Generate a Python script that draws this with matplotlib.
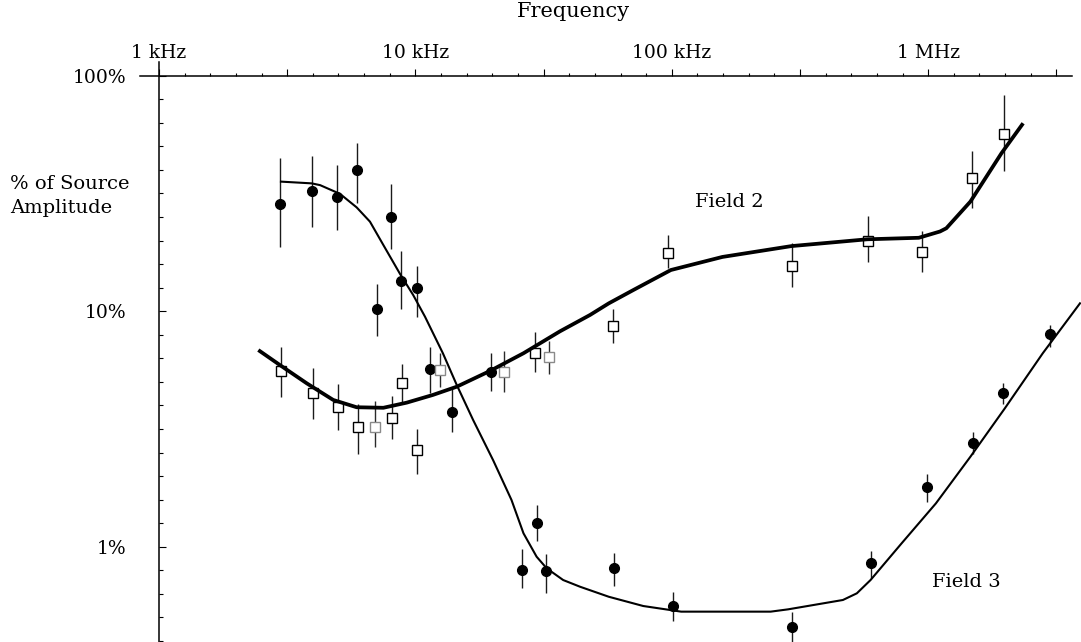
import numpy as np
import matplotlib
matplotlib.use("Agg")
import matplotlib.pyplot as plt
from matplotlib.ticker import FixedLocator, NullFormatter

plt.rcParams['font.family'] = ['DejaVu Serif']

# frequency in kHz, amplitude in % of source

# Field 3 measurements (filled circles)
f3_freq = [2.97, 3.94, 4.95, 5.92, 8.03, 7.08, 8.76, 10.1, 11.4, 13.9, 19.7,
           26.0, 29.7, 32.3, 59.5, 100.7, 295, 596, 993, 1494, 1961, 2975]
f3_amp = [28.5, 32.4, 30.5, 39.8, 25.2, 10.25, 13.5, 12.6, 5.67, 3.74, 5.53,
          0.80, 1.265, 0.788, 0.814, 0.560, 0.457, 0.850, 1.787, 2.764, 4.51, 7.98]
f3_lo = [18.7, 22.8, 22.1, 28.7, 18.4, 7.85, 10.2, 9.48, 4.48, 3.08, 4.60,
         0.666, 1.057, 0.634, 0.681, 0.484, 0.38, 0.734, 1.553, 2.475, 4.04, 7.07]
f3_hi = [44.7, 45.6, 41.6, 51.9, 34.7, 13.1, 18.1, 15.5, 7.07, 4.71, 6.66,
         0.975, 1.51, 0.931, 0.937, 0.640, 0.530, 0.962, 2.036, 3.08, 4.97, 8.74]

# Field 2 measurements (open squares)
f2_freq = [2.98, 3.98, 4.98, 5.96, 8.08, 8.84, 10.1, 29.2, 59.1, 97.0,
           294, 580, 948, 1485, 1967]
f2_amp = [5.57, 4.48, 3.91, 3.21, 3.51, 4.97, 2.57, 6.63, 8.68, 17.6,
          15.5, 19.9, 17.8, 36.9, 56.4]
f2_lo = [4.34, 3.49, 3.13, 2.47, 2.86, 4.09, 2.03, 5.53, 7.31, 15.2,
         12.7, 16.2, 14.6, 27.3, 39.5]
f2_hi = [7.07, 5.75, 4.89, 4.03, 4.36, 5.95, 3.15, 8.14, 10.19, 21.1,
         19.4, 25.4, 21.9, 48.0, 82.6]

# Field 2 points printed lighter
f2b_freq = [6.96, 12.5, 22.2, 33.1]
f2b_amp = [3.23, 5.63, 5.50, 6.37]
f2b_lo = [2.64, 4.75, 4.55, 5.41]
f2b_hi = [4.17, 6.63, 6.78, 7.47]

# fitted curves
fit3_freq = [2.99, 3.94, 4.25, 5.08, 5.90, 6.65, 7.50, 8.71, 9.81, 10.9, 12.8,
             14.5, 16.8, 20.1, 23.7, 26.4, 29.7, 32.5, 37.7, 43.9, 56.8, 77.4,
             108.8, 243, 284, 465, 527, 596, 788, 1072, 1461, 1991, 2799, 3909]
fit3_amp = [35.5, 34.9, 34.3, 31.5, 27.6, 24.0, 19.1, 14.4, 11.7, 9.48, 6.63,
            4.86, 3.45, 2.33, 1.58, 1.14, 0.907, 0.810, 0.722, 0.676, 0.613, 0.560,
            0.530, 0.530, 0.542, 0.594, 0.634, 0.722, 1.034, 1.528, 2.41, 3.87, 6.63, 10.8]

fit2_freq = [2.44, 2.96, 3.77, 4.78, 5.90, 7.50, 9.25, 11.7, 14.5, 19.5, 26.4,
             36.6, 48.0, 56.8, 70.8, 99.2, 157.6, 292.7, 578, 919, 1112, 1177,
             1461, 1930, 2346]
fit2_amp = [6.84, 5.91, 4.94, 4.20, 3.91, 3.89, 4.09, 4.41, 4.78, 5.57, 6.63,
            8.21, 9.64, 10.8, 12.3, 14.96, 17.0, 18.9, 20.2, 20.5, 21.8, 22.5,
            29.2, 46.8, 62.8]

x_tick_vals = [1, 10, 100, 1000]
x_tick_text = ['1 kHz', '10 kHz', '100 kHz', '1 MHz']
y_tick_vals = [1, 10, 100]
y_tick_text = ['1%', '10%', '100%']


def yerr(amp, lo, hi):
    amp = np.array(amp)
    return [amp - np.array(lo), np.array(hi) - amp]


fig = plt.figure(figsize=(10.81, 6.42), dpi=100)
ax = fig.add_axes([159 / 1081, 0, 922 / 1081, 566.3 / 642])
ax.set_xscale('log')
ax.set_yscale('log')
ax.set_xlim(1, 3945)
ax.set_ylim(0.3939, 100)

ax.errorbar(f3_freq, f3_amp, yerr=yerr(f3_amp, f3_lo, f3_hi), fmt='o', ms=7,
            color='black', ecolor='#1a1a1a', elinewidth=1.0, capsize=0, zorder=3)
ax.errorbar(f2_freq, f2_amp, yerr=yerr(f2_amp, f2_lo, f2_hi), fmt='s', ms=7,
            mfc='white', mec='black', mew=1.0, ecolor='#1a1a1a',
            elinewidth=1.0, capsize=0, zorder=3)
ax.errorbar(f2b_freq, f2b_amp, yerr=yerr(f2b_amp, f2b_lo, f2b_hi), fmt='s', ms=7,
            mfc='white', mec='#8a8a8a', mew=1.0, ecolor='#2a2a2a',
            elinewidth=1.0, capsize=0, zorder=3)

ax.plot(fit3_freq, fit3_amp, color='black', lw=1.5, zorder=4)
ax.plot(fit2_freq, fit2_amp, color='black', lw=2.7, zorder=4,
        solid_capstyle='butt')

ax.text(123, 29.2, 'Field 2', fontsize=14, ha='left', va='center')
ax.text(1035, 0.71, 'Field 3', fontsize=14, ha='left', va='center')

# axes frame: only top and left lines, crossing at the corner
for side in ('right', 'bottom'):
    ax.spines[side].set_visible(False)
ax.spines['top'].set_linewidth(1.1)
ax.spines['left'].set_linewidth(1.1)
ax.spines['top'].set_bounds(0.843, 3637)
ax.spines['left'].set_bounds(0.3939, 114)

# x ticks on top: decades and half decades long, tenths short
half = [np.sqrt(10) * v for v in x_tick_vals]
ax.xaxis.tick_top()
ax.xaxis.set_major_locator(FixedLocator(x_tick_vals + half))
ax.xaxis.set_major_formatter(plt.FixedFormatter(x_tick_text + [''] * len(half)))
ax.xaxis.set_minor_locator(FixedLocator(10 ** (np.arange(-1, 37) / 10)))
ax.xaxis.set_minor_formatter(NullFormatter())
ax.tick_params(axis='x', which='major', direction='out', length=4.7, width=0.8,
               pad=5.5, labelsize=13.5)
ax.tick_params(axis='x', which='minor', direction='out', length=2.4, width=0.8)

ax.yaxis.set_major_locator(FixedLocator(y_tick_vals))
ax.yaxis.set_major_formatter(plt.FixedFormatter(y_tick_text))
ax.yaxis.set_minor_locator(FixedLocator(10 ** (np.arange(-5, 21) / 10)))
ax.yaxis.set_minor_formatter(NullFormatter())
ax.tick_params(axis='y', which='major', direction='in', length=4.8, width=0.8,
               pad=23.8, labelsize=13.5)
ax.tick_params(axis='y', which='minor', direction='in', length=2.9, width=0.8)

ax.set_xlabel('Frequency', fontsize=15)
ax.xaxis.set_label_position('top')
ax.xaxis.set_label_coords(0.449, 1.1125)
ax.xaxis.label.set_va('center')

ax.set_ylabel('% of Source\nAmplitude', fontsize=14, rotation=0, ha='left',
              va='center', multialignment='left', linespacing=1.45)
ax.yaxis.set_label_coords(-0.1616, 0.7876)

fig.savefig('out.png', dpi=100)
